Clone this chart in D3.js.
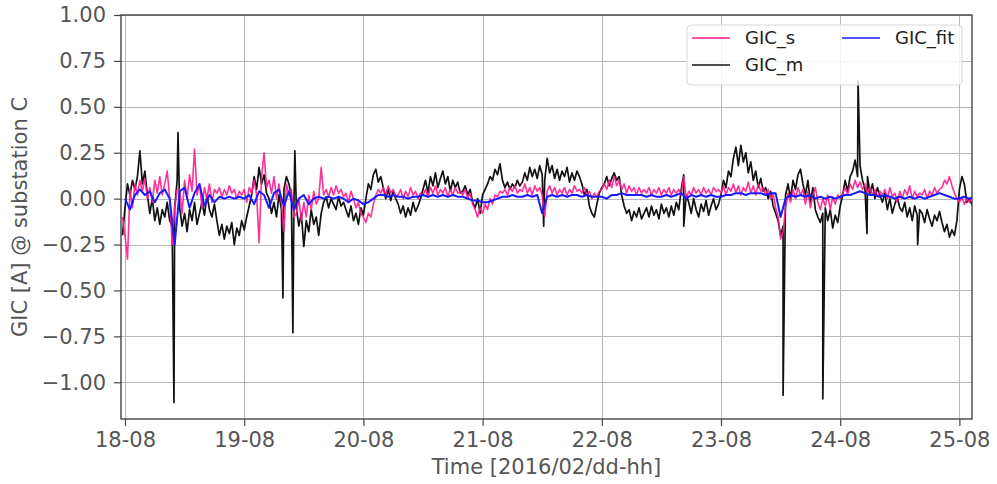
<!DOCTYPE html>
<html>
<head>
<meta charset="utf-8">
<script src="https://cdn.jsdelivr.net/npm/d3@7"></script>
<style>
  body { margin: 0; background: #fff; }
  svg { display: block; font-family: "DejaVu Sans", sans-serif; }
</style>
</head>
<body>
<svg id="chart" width="997" height="484"></svg>
<script>
// GIC_m, measured, 30 min steps, each day starts at dd-08
var gicMPre = [-0.2];
var gicM18 = [-0.05,0.08,0.02,0.1, 0.05,0.12,0.26,0.08,0.15,0.02, -0.08,0,-0.12,-0.05,-0.14,-0.06,-0.1,-0.02,-0.12,
  -0.15,-0.05, 0.1, -0.05,-0.15,-0.08,-0.18,-0.06,-0.12,-0.02,-0.14,-0.08, -0.02,-0.09,0.02,-0.06,-0.1,-0.03,
  -0.12,-0.2,-0.14,-0.22,-0.15,-0.19,-0.13,-0.25,-0.16,-0.2,-0.12];
var gicM19 = [-0.17, -0.1,-0.04,0.02, 0.12,0.05,0.17,0.08,0.13,0.03, 0,-0.08,-0.02,-0.1,0.02,-0.06, 0.05,0.12,0.08,
  0.02,-0.05, -0.05,-0.15,-0.08,-0.26,-0.12,-0.18,-0.06,-0.14,-0.1,-0.2,-0.08,
  -0.02,0.01,-0.05,0,-0.03,-0.06,0.01,-0.04,-0.02, -0.06,-0.1,-0.04,-0.12,-0.08,-0.14,-0.05];
var gicM20 = [-0.09, 0,0.08,0.05,0.13,0.16,0.09,0.12, 0.06,0,0.05,-0.01,0.04,0,
  -0.03,-0.08,-0.04,-0.1,-0.05,-0.09,-0.02,-0.07,-0.04,0,
  0.05,0.1,0.03,0.12,0.07,0.14,0.06,0.11,0.15,0.08,0.12,0.04,0.1,0.06,0.09,0.03,
  0.04,0.07,0.02,0.05,-0.02, -0.05,0,-0.08];
var gicM21 = [0.02,0.05, 0.08,0.12,0.1,0.16,0.13,0.19, 0.1,0.06,0.09,0.05,0.08,0.06,0.1,0.07,
  0.09,0.14,0.1,0.17,0.12,0.16,0.11,0.18,0.13, 0.1,
  0.22,0.14,0.18,0.11,0.16,0.1,0.15,0.12,0.17,0.09,0.14,0.1,0.15,0.12,
  0.08,0.02,0.05,-0.04,-0.08,-0.1, -0.03,0.03];
var gicM22 = [0.06, 0.08,0.12,0.07,0.11,0.14,0.1,0.12, 0.02,-0.04,-0.08,-0.06,-0.12,-0.07,-0.1,-0.05,-0.11,-0.08,
  -0.05,-0.1,-0.04,-0.09,-0.06,-0.11,-0.03,-0.08,-0.05,-0.1,-0.04,-0.09,-0.02,-0.06,
  0.05,0.13,0.02, -0.02,-0.08,0,-0.06,-0.1,-0.03,-0.07,-0.01,-0.09,-0.04,0,-0.06,-0.03];
var gicM23 = [0.02,0.1,0.06,0.15,0.12, 0.22,0.28,0.18,0.29,0.2,0.25, 0.14,0.2,0.1,0.15,0.06,0.11,0.04,
  0.06,0,0.04,-0.04,-0.08,-0.12, -0.2,-0.15, 0.02,0.08,0,0.1,0.05,0.13,0.16,
  0.08,0.02,0.1,-0.02,0.06,-0.06,-0.1, -0.13,-0.08, -0.05,-0.12,-0.06,-0.16,-0.09,-0.13];
var gicM24 = [-0.04, 0.02,0.1,0.04,0.12, 0.15,0.21,0.12,0.18, 0.1,0.05,0.12,0.03,0.08,0,0.06,0.02,
  -0.02,0.03,-0.06,0,-0.08,-0.03,0.01,-0.05, -0.07,-0.02,-0.1,-0.05,-0.12,-0.04,-0.09,-0.06,
  -0.08,-0.13,-0.06,-0.11,-0.15,-0.09,-0.12,-0.07, -0.13,-0.18,-0.14,-0.21, -0.17,-0.2,-0.12];
var gicM25 = [0.05,0.12,0.08,-0.02,0,-0.03,-0.01];

// narrow spikes of GIC_m: hours after 18-08, value
var spikeHoursM = [9.86, 10.67, 31.8, 33.8, 34.2, 84.3, 112.5, 132.5, 140.5, 147.6, 149.4, 159.6];
var spikeValuesM = [-1.11, 0.36, -0.54, -0.73, 0.26, -0.15, -0.15, -1.07, -1.09, 0.64, -0.19, -0.25];

// GIC_s, simulated, 30 min steps
var gicSPre = [-0.1];
var gicS18 = [-0.2,-0.33,0.05,-0.05,0.08, 0.02,0.1,0.04,0.11,0, 0.06,-0.02,0.1,0.03,0.12,0.02,0.08,0.15,0,
  -0.25,-0.05,0.05, 0.05,-0.08,0.1,0,0.13,0.04,0.27,0.02,0.08, -0.05,0.06,0,0.08,-0.02,0.05,
  0.03,0.06,0.01,0.05,0.02,0.07,0.03,0.05,0,0.04,0.02];
var gicS19 = [0.05,-0.02,0.06,0.03, 0.1,0.02,-0.24,0.12,0.25,0.06, 0.1,0.03,0.12,0,0.08,-0.02, -0.18,0.08,0.02,
  0.05,-0.1, -0.08,0,-0.12,-0.02,-0.1,0.02,-0.06,0.04,-0.03,0,0.17,
  0.02,0.05,0.01,0.06,0.02,0.07,0.03,0.05,0.01, 0.03,-0.02,0.04,0,-0.05,-0.02,-0.08];
var gicS20 = [-0.1, -0.13,-0.08,-0.1,-0.03,0.02,0.05,0.03, 0.06,0.02,0.07,0.03,0.05,0.01,
  0.02,0.05,0,0.04,0.01,0.06,0.02,0.04,0,0.03,
  0.02,0.05,0.01,0.06,0.03,0.07,0.02,0.05,0.03,0.06,0.01,0.05,0.02,0.06,0.03,0.04,
  0.02,0.05,0,0.03,-0.03, -0.06,-0.1,-0.05];
var gicS21 = [-0.08,-0.03, -0.06,0,-0.03,0.02,0.01,0.04, 0.03,0.05,0.02,0.06,0.04,0.07,0.03,0.05,
  0.04,0.08,0.03,0.06,0.02,0.07,0.04,0.06,0.02, -0.1,
  0.04,0.07,0.03,0.06,0.02,0.05,0.03,0.06,0.02,0.05,0.03,0.07,0.04,0.05,
  0.03,0.06,0.02,0.04,0,0.03, 0.01,0.04];
var gicS22 = [0.05, 0.08,0.05,0.1,0.06,0.12,0.07,0.1, 0.05,0.08,0.03,0.07,0.04,0.06,0.02,0.06,0.03,0.05,
  0.03,0.06,0.02,0.05,0.03,0.06,0.02,0.05,0.03,0.06,0.02,0.05,0.03,0.05,
  0.02,0.12,0, 0.04,0.02,0.06,0.03,0.05,0.02,0.06,0.03,0.05,0.02,0.06,0.04,0.05];
var gicS23 = [0.03,0.07,0.02,0.06,0.04, 0.08,0.03,0.07,0.02,0.06,0.04, 0.09,0.03,0.07,0.02,0.08,0.04,0.06,
  0.02,0.05,0,0.03,-0.05,-0.1, -0.22,-0.18, -0.05,0.03,-0.02,0.05,0,0.06,0.02,
  0.05,-0.03,0.04,-0.05,0.02,0.06,-0.02, -0.06,0, -0.04,0.02,-0.06,0.01,-0.03,0.02];
var gicS24 = [0, 0.03,0.06,0.02,0.08, 0.05,0.1,0.06,0.09, 0.05,0.08,0.03,0.06,0.02,0.05,0.01,0.04,
  0.02,0.05,0,0.06,0.01,0.03,-0.02,0.04, 0,0.05,0.02,0.07,0,0.04,0.01,0.03,
  0.02,0.05,0,0.04,0.02,0.06,0.03,0.05, 0.06,0.1,0.08,0.12, 0.07,0.03,0];
var gicS25 = [-0.02,0.01,-0.03,0,-0.02,0.01,-0.01];

// GIC_fit, hourly
var gicFit18 = [0,-0.06,0.02,0.05, 0.02,0.04,-0.02,0.03, 0.05,0,-0.25,0.04, 0.06,-0.05,0.03,0.08, -0.04,0.02,-0.02,0.01, 0,0.01,0,0.01];
var gicFit19 = [0,0.02,-0.03,0.04, 0.02,-0.05,0.03,0.05, -0.04,0.04,-0.06,0, 0.02,-0.03,0,0.01, 0,0.01,0,0.01, 0,-0.02,0,-0.01];
var gicFit20 = [-0.03,-0.02,0,0.02, 0.02,0.01,0.02,0.01, 0.01,0,0.01,0.01, 0.02,0.01,0.02,0.01, 0.02,0.01,0.02,0.01, 0.01,0,-0.01,-0.01];
var gicFit21 = [-0.02,-0.02,-0.01,0, 0.01,0.01,0.02,0.01, 0.01,0.02,0.01,0.02, -0.08,0.01,0.02,0.01, 0.02,0.01,0.02,0.02, 0.01,0.02,0.01,0.01];
var gicFit22 = [0.01,0,0.02,0.02, 0.03,0.02,0.02,0.02, 0.02,0.01,0.02,0.01, 0.01,0.02,0.01,0.02, 0.03,0,0.02,0.01, 0.02,0.01,0.02,0.01];
var gicFit23 = [0.01,0.02,0.02,0.03, 0.03,0.02,0.03,0.03, 0.03,0.02,0.03,0.03, -0.1,0,0.02,0.01, 0.02,0.01,0.02,0, 0.01,0,0.01,0];
var gicFit24 = [0.01,0.02,0.02,0.03, 0.04,0.03,0.02,0.02, 0.01,0.02,0.01,0, 0.01,0,0.01,0, 0.01,0,0.01,0.02, 0.03,0.02,0.01,0];
var gicFit25 = [0,0.01,0,0.01];

var yTicks = [1.0, 0.75, 0.5, 0.25, 0, -0.25, -0.5, -0.75, -1.0];
var dayTicks = [18, 19, 20, 21, 22, 23, 24, 25];

var HOUR = 36e5;
var t0 = Date.UTC(2016, 1, 18, 8);

function series(pre, days, stepH) {
  var pts = [];
  pre.forEach(function(v, k) { pts.push({ t: t0 - (pre.length - k) * stepH * HOUR, v: v }); });
  days.forEach(function(arr, d) {
    arr.forEach(function(v, k) { pts.push({ t: t0 + (d * 24 + k * stepH) * HOUR, v: v }); });
  });
  return pts;
}

function drawChart() {
  var dataM = series(gicMPre, [gicM18, gicM19, gicM20, gicM21, gicM22, gicM23, gicM24, gicM25], 0.5);
  spikeHoursM.forEach(function(h, i) { dataM.push({ t: t0 + h * HOUR, v: spikeValuesM[i] }); });
  dataM.sort(function(a, b) { return a.t - b.t; });
  var dataS = series(gicSPre, [gicS18, gicS19, gicS20, gicS21, gicS22, gicS23, gicS24, gicS25], 0.5);
  var dataFit = series([], [gicFit18, gicFit19, gicFit20, gicFit21, gicFit22, gicFit23, gicFit24, gicFit25], 1);

  var mLeft = 121, mRight = 972, mTop = 15, mBottom = 419;
  var svg = d3.select("#chart");

  var x = d3.scaleUtc()
    .domain([t0 - 0.805 * HOUR, t0 + 170.54 * HOUR])
    .range([mLeft, mRight]);
  var y = d3.scaleLinear().domain([-1.2, 1.0]).range([mBottom, mTop]);

  svg.append("defs").append("clipPath").attr("id", "clip")
    .append("rect").attr("x", mLeft).attr("y", mTop).attr("width", mRight - mLeft).attr("height", mBottom - mTop);

  // grid
  var grid = svg.append("g").attr("stroke", "#b8b8b8").attr("stroke-width", 1);
  grid.selectAll(".gy").data(yTicks).join("line")
    .attr("x1", mLeft).attr("x2", mRight)
    .attr("y1", function(d) { return Math.round(y(d)) + 0.5; })
    .attr("y2", function(d) { return Math.round(y(d)) + 0.5; });
  grid.selectAll(".gx").data(dayTicks).join("line")
    .attr("y1", mTop).attr("y2", mBottom)
    .attr("x1", function(d) { return Math.round(x(Date.UTC(2016, 1, d, 8))) + 0.5; })
    .attr("x2", function(d) { return Math.round(x(Date.UTC(2016, 1, d, 8))) + 0.5; });

  var line = d3.line()
    .x(function(d) { return x(d.t); })
    .y(function(d) { return y(d.v); });

  var plot = svg.append("g").attr("clip-path", "url(#clip)").attr("fill", "none");
  plot.append("path").datum(dataM).attr("d", line)
    .attr("stroke", "#111").attr("stroke-width", 1.7).attr("stroke-linejoin", "round");
  plot.append("path").datum(dataS).attr("d", line)
    .attr("stroke", "#ff1a8c").attr("stroke-opacity", 0.9).attr("stroke-width", 1.6).attr("stroke-linejoin", "round");
  plot.append("path").datum(dataFit).attr("d", line)
    .attr("stroke", "#1a1aff").attr("stroke-width", 2).attr("stroke-linejoin", "round");

  // axes
  var fmt = d3.utcFormat("%d-%H");
  var xAxis = d3.axisBottom(x)
    .tickValues(dayTicks.map(function(d) { return new Date(Date.UTC(2016, 1, d, 8)); }))
    .tickFormat(fmt).tickSizeOuter(0).tickSize(7).tickPadding(6);
  var yAxis = d3.axisLeft(y).tickValues(yTicks)
    .tickFormat(function(d) { return d3.format(".2f")(d).replace("-", "\u2212"); })
    .tickSizeOuter(0).tickSize(7).tickPadding(8);

  var gx = svg.append("g").attr("transform", "translate(0," + mBottom + ")").call(xAxis);
  var gy = svg.append("g").attr("transform", "translate(" + mLeft + ",0)").call(yAxis);
  [gx, gy].forEach(function(g) {
    g.select(".domain").remove();
    g.selectAll("line").attr("stroke", "#444").attr("stroke-width", 1.2);
    g.selectAll("text").attr("fill", "#555").style("font-size", "21px")
      .style("font-family", "DejaVu Sans, sans-serif");
  });

  // frame
  svg.append("rect").attr("x", mLeft).attr("y", mTop).attr("width", mRight - mLeft).attr("height", mBottom - mTop)
    .attr("fill", "none").attr("stroke", "#444").attr("stroke-width", 1.4);

  // axis titles
  svg.append("text").attr("x", (mLeft + mRight) / 2).attr("y", 474).attr("text-anchor", "middle")
    .attr("fill", "#555").style("font-size", "21px").text("Time [2016/02/dd-hh]");
  svg.append("text").attr("transform", "translate(27," + (mTop + mBottom) / 2 + ") rotate(-90)")
    .attr("text-anchor", "middle").attr("fill", "#555").style("font-size", "21px")
    .text("GIC [A] @ substation C");

  // legend
  var legendNames = ["GIC_s", "GIC_m", "GIC_fit"];
  var legendColors = ["#ff1a8c", "#111", "#1a1aff"];
  var legendPos = [[692, 38], [692, 65], [842, 38]];
  var lg = svg.append("g");
  lg.append("rect").attr("x", 687).attr("y", 25).attr("width", 275).attr("height", 60).attr("rx", 4)
    .attr("fill", "#fff").attr("fill-opacity", 0.8).attr("stroke", "#d8d8d8");
  legendNames.forEach(function(name, i) {
    var p = legendPos[i];
    lg.append("line").attr("x1", p[0]).attr("x2", p[0] + 38).attr("y1", p[1]).attr("y2", p[1])
      .attr("stroke", legendColors[i]).attr("stroke-width", 1.5);
    lg.append("text").attr("x", p[0] + 53).attr("y", p[1]).attr("dy", "0.35em")
      .attr("fill", "#222").style("font-size", "18px").text(name);
  });
}

drawChart();
</script>
</body>
</html>
